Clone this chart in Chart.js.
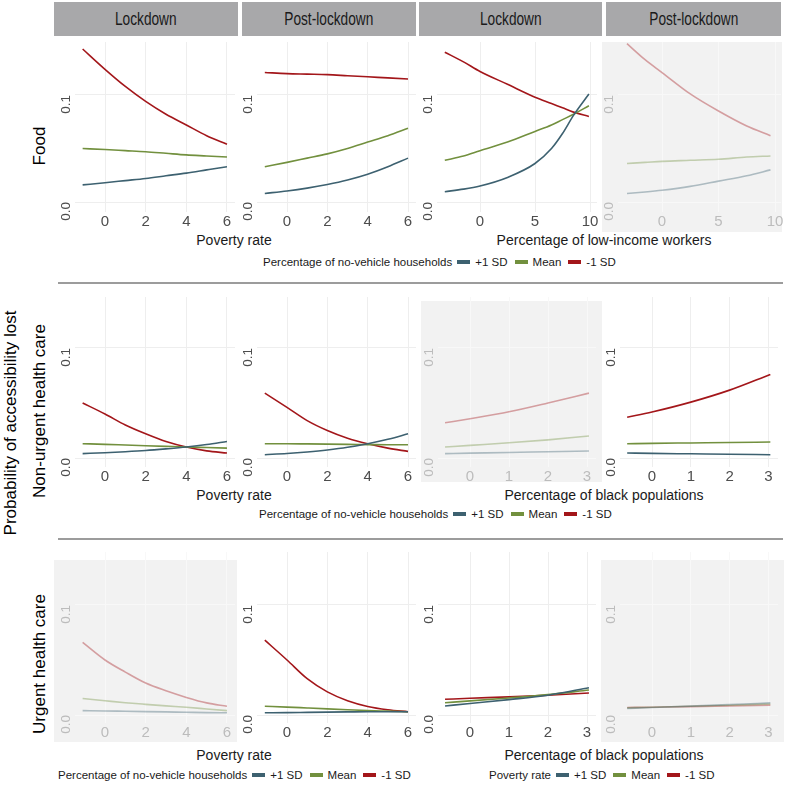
<!DOCTYPE html>
<html>
<head>
<meta charset="utf-8">
<script src="https://cdn.jsdelivr.net/npm/chart.js@4.4.1/dist/chart.umd.min.js"></script>
<style>
  body { margin: 0; background: #fff; font-family: "Liberation Sans", Arial, sans-serif; }
  #wrap { position: relative; width: 787px; height: 786px; overflow: hidden; }
  .abs { position: absolute; }
  .strip { background: #a8a8aa; top: 2px; height: 34px; display: flex; align-items: center; justify-content: center; }
  .strip span { font-size: 19px; color: #1a1a1a; display: inline-block; transform: scaleX(0.72); }
  .rule { height: 2px; background: #9c9c9c; left: 58px; width: 725px; }
  .xt { font-size: 14px; color: #1a1a1a; transform: translate(-50%, -50%); white-space: nowrap; }
  .rowlab { font-size: 17px; color: #000; transform: translate(-50%, -50%) rotate(-90deg); white-space: nowrap; }
  .leg { font-size: 11.5px; color: #1a1a1a; display: flex; align-items: center; transform: translateY(-50%); white-space: nowrap; }
  .leg i { display: inline-block; width: 13px; height: 4px; margin: 0 5px; }
  .fade { background: #f2f2f2; }
  canvas { position: absolute; }
</style>
</head>
<body>
<div id="wrap"></div>
<script>
// Etiquetas
const periods = ["Lockdown", "Post-lockdown", "Lockdown", "Post-lockdown"];
const rowNames = ["Food", "Non-urgent health care", "Urgent health care"];
const seriesNames = ["+1 SD", "Mean", "-1 SD"];
const seriesColors = ["#3d6170", "#72903e", "#a3161a"];
const fadedColors = ["rgba(61,97,112,0.38)", "rgba(114,144,62,0.38)", "rgba(163,22,26,0.38)"];

// Ticks
const yTicks = [0, 0.1];
const povertyTicks = [0, 2, 4, 6];
const lowIncomeTicks = [0, 5, 10];
const blackTicks = [0, 1, 2, 3];

// Valores de x
const povertyX = [-1.1, 0, 1, 2, 3, 4, 5, 6];
const lowIncomeX = [-3.2, -1.5, 0, 2.5, 5, 6.5, 7.5, 8.5, 9.9];
const lowIncomePostX = [-3.1, -1.5, 0, 2.5, 5, 7.5, 9.6];
const blackX = [-0.64, 0, 1, 2, 3.05];

// Food
const foodLockPovPlus = [0.016, 0.018, 0.020, 0.022, 0.0245, 0.027, 0.030, 0.033];
const foodLockPovMean = [0.050, 0.049, 0.048, 0.047, 0.0455, 0.044, 0.043, 0.042];
const foodLockPovMinus = [0.143, 0.124, 0.108, 0.094, 0.082, 0.072, 0.062, 0.054];
const foodPostPovPlus = [0.008, 0.0103, 0.013, 0.0164, 0.0206, 0.026, 0.033, 0.041];
const foodPostPovMean = [0.033, 0.037, 0.041, 0.045, 0.050, 0.056, 0.062, 0.069];
const foodPostPovMinus = [0.121, 0.120, 0.1195, 0.119, 0.118, 0.117, 0.116, 0.115];
const foodLockIncPlus = [0.0096, 0.012, 0.015, 0.023, 0.036, 0.050, 0.064, 0.081, 0.101];
const foodLockIncMean = [0.039, 0.043, 0.048, 0.056, 0.066, 0.072, 0.077, 0.082, 0.090];
const foodLockIncMinus = [0.140, 0.131, 0.122, 0.110, 0.098, 0.092, 0.088, 0.084, 0.080];
const foodPostIncPlus = [0.008, 0.0094, 0.011, 0.0146, 0.0195, 0.0245, 0.030];
const foodPostIncMean = [0.036, 0.037, 0.038, 0.039, 0.040, 0.042, 0.043];
const foodPostIncMinus = [0.148, 0.133, 0.121, 0.101, 0.085, 0.071, 0.062];

// Non-urgent health care
const nonLockPovPlus = [0.004, 0.0048, 0.0057, 0.0068, 0.0083, 0.010, 0.0122, 0.015];
const nonLockPovMean = [0.013, 0.0124, 0.0118, 0.0112, 0.0106, 0.010, 0.0095, 0.009];
const nonLockPovMinus = [0.050, 0.040, 0.030, 0.022, 0.015, 0.010, 0.0065, 0.0045];
const nonPostPovPlus = [0.003, 0.0041, 0.0055, 0.0073, 0.0097, 0.013, 0.017, 0.022];
const nonPostPovMean = [0.013, 0.013, 0.0128, 0.0126, 0.0124, 0.0122, 0.012, 0.012];
const nonPostPovMinus = [0.059, 0.046, 0.034, 0.025, 0.018, 0.013, 0.009, 0.006];
const nonLockBlkPlus = [0.004, 0.0044, 0.005, 0.0057, 0.0064];
const nonLockBlkMean = [0.010, 0.0115, 0.0138, 0.0165, 0.020];
const nonLockBlkMinus = [0.032, 0.0357, 0.042, 0.050, 0.059];
const nonPostBlkPlus = [0.0045, 0.0042, 0.0038, 0.0034, 0.003];
const nonPostBlkMean = [0.013, 0.0133, 0.0137, 0.0141, 0.0145];
const nonPostBlkMinus = [0.037, 0.0418, 0.0508, 0.0617, 0.076];

// Urgent health care
const urgLockPovPlus = [0.004, 0.0037, 0.0034, 0.0031, 0.0028, 0.0025, 0.0022, 0.002];
const urgLockPovMean = [0.015, 0.013, 0.0112, 0.0097, 0.0083, 0.007, 0.0055, 0.004];
const urgLockPovMinus = [0.066, 0.050, 0.039, 0.029, 0.022, 0.016, 0.011, 0.008];
const urgPostPovPlus = [0.002, 0.0022, 0.0024, 0.0026, 0.0028, 0.003, 0.003, 0.003];
const urgPostPovMean = [0.008, 0.0072, 0.0064, 0.0056, 0.0048, 0.004, 0.0035, 0.003];
const urgPostPovMinus = [0.068, 0.050, 0.033, 0.021, 0.013, 0.0078, 0.0048, 0.003];
const urgLockBlkPlus = [0.0082, 0.0105, 0.014, 0.018, 0.0248];
const urgLockBlkMean = [0.0112, 0.0128, 0.0155, 0.0185, 0.0227];
const urgLockBlkMinus = [0.0143, 0.0152, 0.0165, 0.018, 0.020];
const urgPostBlkPlus = [0.006, 0.0068, 0.0081, 0.0095, 0.011];
const urgPostBlkMean = [0.0065, 0.007, 0.0079, 0.0089, 0.010];
const urgPostBlkMinus = [0.0068, 0.0071, 0.0076, 0.0083, 0.009];

const FONT = '"Liberation Sans", Arial, sans-serif';
const wrap = document.getElementById("wrap");

// Geometria (pixeles) de filas y columnas
const rowsGeo = [
  { top: 42, bottom: 212, zero: 202, k: 1070 },
  { top: 297, bottom: 467, zero: 458, k: 1100 },
  { top: 552, bottom: 723, zero: 715, k: 1100 },
];
const xGeo = {
  pov1: { zero: 105, k: 20.33, left: 75, right: 235 },
  pov2: { zero: 287, k: 20.17, left: 257, right: 416 },
  inc3: { zero: 480, k: 11, left: 437, right: 597 },
  inc4: { zero: 662, k: 11.3, left: 618, right: 781 },
  blk3: { zero: 470, k: 39, left: 438, right: 596 },
  blk4: { zero: 652, k: 38.8, left: 620, right: 778 },
};

const panels = [
  { row: 0, xg: "pov1", x: povertyX, ticks: povertyTicks, s: [foodLockPovPlus, foodLockPovMean, foodLockPovMinus] },
  { row: 0, xg: "pov2", x: povertyX, ticks: povertyTicks, s: [foodPostPovPlus, foodPostPovMean, foodPostPovMinus] },
  { row: 0, xg: "inc3", x: lowIncomeX, ticks: lowIncomeTicks, s: [foodLockIncPlus, foodLockIncMean, foodLockIncMinus] },
  { row: 0, xg: "inc4", x: lowIncomePostX, ticks: lowIncomeTicks, s: [foodPostIncPlus, foodPostIncMean, foodPostIncMinus], faded: true },
  { row: 1, xg: "pov1", x: povertyX, ticks: povertyTicks, s: [nonLockPovPlus, nonLockPovMean, nonLockPovMinus] },
  { row: 1, xg: "pov2", x: povertyX, ticks: povertyTicks, s: [nonPostPovPlus, nonPostPovMean, nonPostPovMinus] },
  { row: 1, xg: "blk3", x: blackX, ticks: blackTicks, s: [nonLockBlkPlus, nonLockBlkMean, nonLockBlkMinus], faded: true },
  { row: 1, xg: "blk4", x: blackX, ticks: blackTicks, s: [nonPostBlkPlus, nonPostBlkMean, nonPostBlkMinus] },
  { row: 2, xg: "pov1", x: povertyX, ticks: povertyTicks, s: [urgLockPovPlus, urgLockPovMean, urgLockPovMinus], faded: true },
  { row: 2, xg: "pov2", x: povertyX, ticks: povertyTicks, s: [urgPostPovPlus, urgPostPovMean, urgPostPovMinus] },
  { row: 2, xg: "blk3", x: blackX, ticks: blackTicks, s: [urgLockBlkPlus, urgLockBlkMean, urgLockBlkMinus] },
  { row: 2, xg: "blk4", x: blackX, ticks: blackTicks, s: [urgPostBlkPlus, urgPostBlkMean, urgPostBlkMinus], faded: true },
];

// Fondos grises de los paneles atenuados
const fadeBoxes = [[602, 42, 180, 190], [421, 301, 181, 181], [54, 560, 183, 182], [601, 560, 183, 182]];

function addDiv(cls, style, html) {
  const d = document.createElement("div");
  d.className = "abs " + cls;
  Object.assign(d.style, style);
  if (html !== undefined) d.innerHTML = html;
  wrap.appendChild(d);
  return d;
}

fadeBoxes.forEach(([l, t, w, h]) => addDiv("fade", { left: l + "px", top: t + "px", width: w + "px", height: h + "px" }));

// Tiras de encabezado
const stripX = [[54, 238], [242, 416], [419, 602], [606, 781]];
stripX.forEach(([a, b], i) => addDiv("strip", { left: a + "px", width: (b - a) + "px" }, "<span>" + periods[i] + "</span>"));

// Separadores
addDiv("rule", { top: 282 + "px" });
addDiv("rule", { top: 538 + "px" });

// Titulos de filas
addDiv("rowlab", { left: "40px", top: "146px" }, rowNames[0]);
addDiv("rowlab", { left: "40px", top: "411px" }, rowNames[1]);
addDiv("rowlab", { left: "40px", top: "664px" }, rowNames[2]);
addDiv("rowlab", { left: "11px", top: "423px" }, "Probability of accessibility lost");

// Titulos del eje x
addDiv("xt", { left: "234px", top: "240px" }, "Poverty rate");
addDiv("xt", { left: "604px", top: "240px" }, "Percentage of low-income workers");
addDiv("xt", { left: "234px", top: "495px" }, "Poverty rate");
addDiv("xt", { left: "604px", top: "495px" }, "Percentage of black populations");
addDiv("xt", { left: "234px", top: "755px" }, "Poverty rate");
addDiv("xt", { left: "604px", top: "755px" }, "Percentage of black populations");

// Leyendas
function legend(title, x, y) {
  let html = "<span>" + title + "</span>";
  seriesNames.forEach((n, i) => {
    html += '<i style="background:' + seriesColors[i] + '"></i><span style="margin-right:2px">' + n + "</span>";
  });
  addDiv("leg", { left: x + "px", top: y + "px" }, html);
}
legend("Percentage of no-vehicle households", 263, 262);
legend("Percentage of no-vehicle households", 259, 514);
legend("Percentage of no-vehicle households", 58, 775);
legend("Poverty rate", 489, 775);

// Graficos
function drawPanel(p) {
  const rg = rowsGeo[p.row];
  const xg = xGeo[p.xg];
  const yW = 22, padT = 4, padR = 4, xH = 26;
  const c = document.createElement("canvas");
  c.width = yW + (xg.right - xg.left) + padR;
  c.height = padT + (rg.bottom - rg.top) + xH;
  c.style.left = xg.left - yW + "px";
  c.style.top = rg.top - padT + "px";
  wrap.appendChild(c);

  const tickCol = p.faded ? "#bcbcbc" : "#4d4d4d";
  const gridCol = p.faded ? "#f8f8f8" : "#eeeeee";
  const colors = p.faded ? fadedColors : seriesColors;

  new Chart(c, {
    type: "line",
    data: {
      datasets: p.s.map((vals, i) => ({
        label: seriesNames[i],
        data: p.x.map((x, j) => ({ x, y: vals[j] })),
        borderColor: colors[i],
        borderWidth: 1.6,
        pointRadius: 0,
        fill: false,
        cubicInterpolationMode: "monotone",
      })),
    },
    options: {
      responsive: false,
      animation: false,
      events: [],
      layout: { padding: { top: padT, right: padR, left: 0, bottom: 0 } },
      plugins: { legend: { display: false }, tooltip: { enabled: false } },
      scales: {
        x: {
          type: "linear",
          min: (xg.left - xg.zero) / xg.k,
          max: (xg.right - xg.zero) / xg.k,
          afterBuildTicks: (s) => { s.ticks = p.ticks.map((v) => ({ value: v })); },
          afterFit: (s) => { s.height = xH; s.paddingLeft = 0; s.paddingRight = 0; },
          border: { display: false },
          grid: { color: gridCol, drawTicks: false },
          ticks: {
            autoSkip: false, minRotation: 0, maxRotation: 0, padding: 1,
            color: tickCol, font: { size: 15, family: FONT },
            callback: (v) => String(v),
          },
        },
        y: {
          type: "linear",
          min: (rg.zero - rg.bottom) / rg.k,
          max: (rg.zero - rg.top) / rg.k,
          afterBuildTicks: (s) => { s.ticks = yTicks.map((v) => ({ value: v })); },
          afterFit: (s) => { s.width = yW; s.paddingTop = 0; s.paddingBottom = 0; },
          border: { display: false },
          grid: { color: gridCol, drawTicks: false },
          ticks: {
            autoSkip: false, minRotation: 90, maxRotation: 90, padding: 9,
            color: tickCol, font: { size: 13.5, family: FONT },
            callback: (v) => v.toFixed(1),
          },
        },
      },
    },
  });
}

panels.forEach(drawPanel);
</script>
</body>
</html>
